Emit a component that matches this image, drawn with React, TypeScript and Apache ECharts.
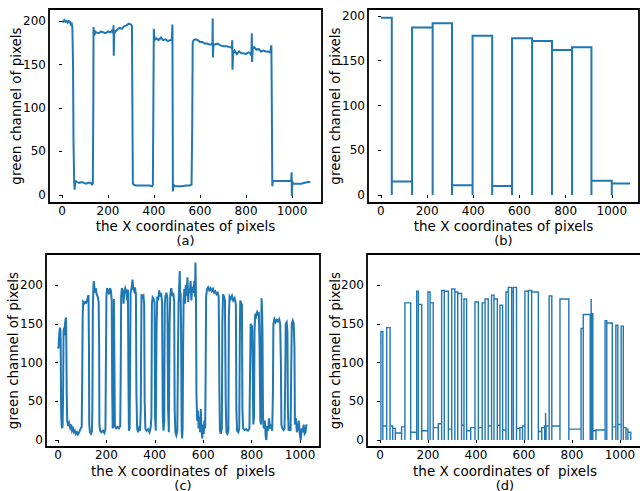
import React, { useEffect, useRef } from "react";
import * as echarts from "echarts";

const X_TICKS = [0, 200, 400, 600, 800, 1000];
const Y_TICKS = [0, 50, 100, 150, 200];

// (a) raw green-channel profile
const A_POINTS: number[][] = [
  [0,200],[5,199],[10,201],[15,199],[20,200],[25,198],[30,200],[35,199],[38,196],[42,197],[45,193],[48,150],[50,60],[53,15],[55,6],[58,16],[65,15],[75,14],[85,15],[95,14],[105,13],[115,14],[125,14],[130,12],[134,13],[136,100],[137,193],[139,183],[142,189],[146,186],[150,187],[160,186],[170,188],[180,187],[190,186],[200,188],[210,187],[218,189],[222,186],[224,195],[225,160],[227,185],[232,188],[240,190],[250,192],[260,191],[270,194],[280,195],[290,197],[300,196],[304,194],[306,100],[308,13],[312,12],[320,11],[340,11],[360,11],[380,11],[392,10],[395,12],[397,100],[399,191],[402,178],[410,180],[420,178],[430,181],[440,178],[450,179],[460,177],[470,178],[477,178],[480,196],[481,100],[482,4],[484,12],[490,10],[500,10],[520,10],[540,11],[555,11],[563,12],[566,80],[568,175],[572,178],[580,179],[590,178],[600,176],[610,176],[620,174],[630,174],[640,173],[650,173],[654,175],[655,203],[656,158],[658,173],[665,173],[675,174],[690,172],[700,171],[715,171],[730,170],[738,169],[740,178],[741,144],[744,162],[750,166],[760,162],[770,165],[780,163],[790,163],[800,162],[810,164],[818,163],[823,160],[825,186],[826,153],[829,168],[835,170],[845,167],[855,168],[865,165],[875,166],[885,165],[895,165],[905,164],[910,172],[912,100],[914,10],[916,16],[930,16],[950,16],[970,16],[985,16],[996,16],[998,26],[999,-1],[1001,15],[1005,13],[1020,13],[1040,13],[1055,14],[1070,15],[1079,15]
];

// (b) segmented levels
const B_BREAKS = [0, 47, 135, 224, 308, 397, 482, 568, 655, 741, 828, 912, 1000, 1079];
const B_LEVELS = [198, 15, 187, 192, 11, 178, 10, 175, 172, 162, 165, 16, 13];

// (c) raw green-channel profile
const C_POINTS: number[][] = [
  [0,120],[2,118],[4,130],[6,140],[8,145],[10,142],[11,130],[12,80],[13,35],[15,20],[17,15],[19,18],[21,60],[23,140],[25,145],[27,135],[29,150],[31,155],[33,158],[34,140],[36,60],[38,25],[42,18],[46,22],[50,16],[54,20],[58,12],[62,15],[66,10],[70,12],[74,8],[78,10],[82,7],[86,9],[90,12],[94,15],[98,17],[100,80],[102,160],[104,178],[108,176],[112,178],[116,177],[120,180],[124,185],[126,187],[128,120],[129,20],[132,10],[136,8],[140,11],[142,40],[144,170],[146,195],[148,205],[150,198],[153,190],[156,196],[160,188],[164,185],[168,178],[170,120],[171,20],[174,12],[180,10],[186,12],[192,9],[196,14],[198,100],[200,185],[203,196],[207,192],[211,188],[215,196],[219,192],[222,180],[224,60],[226,15],[229,20],[231,182],[233,100],[235,18],[240,15],[246,17],[252,15],[257,18],[259,80],[261,185],[264,196],[268,192],[271,176],[274,190],[278,196],[282,192],[286,180],[289,194],[291,80],[293,12],[296,15],[298,100],[300,190],[304,196],[308,207],[311,195],[315,192],[318,197],[322,188],[324,60],[327,15],[331,10],[335,15],[339,12],[342,40],[345,188],[349,184],[353,186],[356,175],[358,50],[361,15],[366,12],[372,14],[378,10],[383,16],[386,30],[388,175],[391,184],[395,182],[399,178],[401,30],[404,12],[407,140],[410,185],[414,180],[418,193],[422,185],[426,190],[430,178],[433,30],[436,12],[439,25],[441,175],[444,186],[448,190],[452,183],[455,40],[458,10],[461,150],[464,188],[468,196],[472,186],[476,190],[480,180],[482,40],[485,10],[489,6],[493,12],[496,120],[498,175],[501,200],[503,218],[505,178],[507,190],[509,120],[511,10],[513,2],[515,15],[517,120],[519,180],[522,195],[525,176],[528,200],[531,186],[535,210],[538,178],[541,195],[544,190],[548,205],[551,180],[555,198],[559,190],[563,205],[566,185],[568,229],[570,190],[572,60],[575,25],[578,38],[581,15],[584,30],[587,10],[590,40],[593,12],[596,2],[599,20],[602,8],[605,25],[608,15],[610,80],[612,185],[616,195],[620,197],[625,193],[630,196],[635,192],[640,195],[645,190],[650,192],[655,188],[660,190],[664,185],[667,60],[669,12],[673,8],[677,15],[679,150],[682,188],[686,185],[690,180],[693,50],[696,10],[700,8],[704,12],[706,160],[709,185],[714,182],[719,186],[724,180],[730,183],[735,175],[737,40],[740,12],[745,10],[749,15],[751,120],[753,180],[757,176],[760,175],[762,40],[765,15],[771,13],[778,14],[785,12],[791,15],[794,100],[796,150],[799,145],[802,148],[805,80],[807,20],[810,30],[812,140],[815,163],[819,160],[823,165],[827,162],[830,163],[833,120],[836,25],[839,20],[841,183],[843,170],[845,140],[847,30],[850,15],[855,25],[858,5],[861,0],[864,18],[868,12],[872,28],[876,15],[880,20],[885,12],[888,60],[890,150],[894,156],[899,152],[904,155],[909,153],[914,156],[918,150],[921,100],[923,20],[927,15],[932,13],[936,15],[939,80],[941,150],[945,152],[948,140],[950,40],[953,12],[957,15],[961,12],[964,100],[966,150],[970,154],[974,150],[977,120],[979,20],[983,28],[987,10],[991,15],[995,25],[999,8],[1003,0],[1007,15],[1011,10],[1015,20],[1019,8],[1023,10],[1026,20],[1028,18]
];

// (d) segmented levels
const D_BREAKS = [0,4,12,28,42,53,64,90,104,128,153,160,174,200,209,222,243,257,268,285,299,312,324,340,350,361,378,396,410,426,438,451,465,475,489,500,511,525,535,549,556,569,583,594,604,618,632,660,674,686,690,692,705,716,750,787,838,847,876,880,882,887,900,938,945,968,983,991,1005,1014,1025,1033,1045];
const D_LEVELS = [125,140,18,145,18,15,9,17,177,10,192,175,12,191,177,16,21,193,192,14,195,191,189,19,182,12,16,178,16,177,182,18,187,182,19,174,13,191,197,191,197,15,16,18,192,193,191,11,16,18,35,18,186,18,182,14,144,162,20,182,163,12,13,154,151,17,148,20,147,16,14,10];

function stepOutline(breaks: number[], levels: number[], dropAtEnd: boolean): number[][] {
  const pts: number[][] = [[breaks[0], levels[0]], [breaks[1], levels[0]]];
  for (let i = 1; i < levels.length; i++) {
    pts.push([breaks[i], 0], [breaks[i], levels[i]], [breaks[i + 1], levels[i]]);
  }
  if (dropAtEnd) pts.push([breaks[breaks.length - 1], 0]);
  return pts;
}

const FONT = "DejaVu Sans";
const BLUE = "#1f77b4";

export default function App() {
  const ref = useRef<HTMLDivElement>(null);
  useEffect(() => {
    if (!ref.current) return;
    const chart = echarts.init(ref.current, undefined, { renderer: "svg" });

    const grids = [
      { left: 49, top: 9, width: 273, height: 194 },
      { left: 368, top: 9, width: 271, height: 194 },
      { left: 46, top: 254, width: 274, height: 193 },
      { left: 367, top: 254, width: 276, height: 193 },
    ];
    const xRanges = [[-56.5, 1130], [-56, 1118], [-49.6, 1082.6], [-54, 1096]];
    const yRanges = [[-9.2, 213.8], [-8.9, 207.8], [-9, 240], [-9, 240]];
    const yGaps = [33, 33, 33, 32];
    const xNames = [
      "the X coordinates of pixels",
      "the X coordinates of pixels",
      "the X coordinates of  pixels",
      "the X coordinates of  pixels",
    ];
    const xGaps = [23, 23, 23.5, 23.5];
    const tags = ["(a)", "(b)", "(c)", "(d)"];
    const tagY = [240.5, 240.5, 485, 485];
    const data = [
      A_POINTS,
      stepOutline(B_BREAKS, B_LEVELS, false),
      C_POINTS,
      stepOutline(D_BREAKS, D_LEVELS, true),
    ];
    const widths = [2, 2, 2, 1.4];

    const option: any = {
      animation: false,
      backgroundColor: "#fff",
      textStyle: { fontFamily: FONT },
      grid: grids.map((g) => ({
        ...g,
        show: true,
        borderColor: "#000",
        borderWidth: 1.8,
        backgroundColor: "transparent",
        containLabel: false,
        outerBoundsMode: "none",
      })),
      xAxis: grids.map((_, i) => ({
        type: "value",
        gridIndex: i,
        min: xRanges[i][0],
        max: xRanges[i][1],
        name: xNames[i],
        nameLocation: "middle",
        nameGap: xGaps[i],
        nameMoveOverlap: false,
        nameTextStyle: { fontSize: 13.5, lineHeight: 13, color: "#000", fontFamily: FONT, verticalAlign: "middle" },
        axisLine: { show: false },
        axisTick: { show: true, length: 3, lineStyle: { color: "#000", width: 1 }, customValues: X_TICKS },
        axisLabel: {
          color: "#000",
          fontSize: 12,
          lineHeight: 12,
          fontFamily: FONT,
          margin: 2,
          customValues: X_TICKS,
          formatter: (v: number) => String(v),
        },
        splitLine: { show: false },
      })),
      yAxis: grids.map((_, i) => ({
        type: "value",
        gridIndex: i,
        min: yRanges[i][0],
        max: yRanges[i][1],
        name: "green channel of pixels",
        nameLocation: "middle",
        nameRotate: 90,
        nameGap: yGaps[i],
        nameMoveOverlap: false,
        nameTextStyle: { fontSize: 13.5, lineHeight: 14, color: "#000", fontFamily: FONT, verticalAlign: "middle", align: "center" },
        axisLine: { show: false },
        axisTick: { show: true, length: 3, lineStyle: { color: "#000", width: 1 }, customValues: Y_TICKS },
        axisLabel: {
          color: "#000",
          fontSize: 12,
          fontFamily: FONT,
          margin: 3,
          customValues: Y_TICKS,
          formatter: (v: number) => String(v),
        },
        splitLine: { show: false },
      })),
      series: data.map((d, i) => ({
        type: "line",
        xAxisIndex: i,
        yAxisIndex: i,
        data: d,
        showSymbol: false,
        symbol: "none",
        lineStyle: { color: BLUE, width: widths[i], join: "miter" },
        clip: true,
      })),
      graphic: tags.map((t, i) => ({
        type: "text",
        x: grids[i].left + grids[i].width / 2,
        y: tagY[i],
        style: {
          text: t,
          fontSize: 13,
          lineHeight: 12,
          fontFamily: FONT,
          fill: "#000",
          textAlign: "center",
          textVerticalAlign: "middle",
        },
      })),
    };
    chart.setOption(option);
    return () => chart.dispose();
  }, []);
  return (
    <div
      ref={ref}
      style={{ position: "absolute", left: 0, top: 0, width: 640, height: 491, background: "#fff" }}
    />
  );
}
